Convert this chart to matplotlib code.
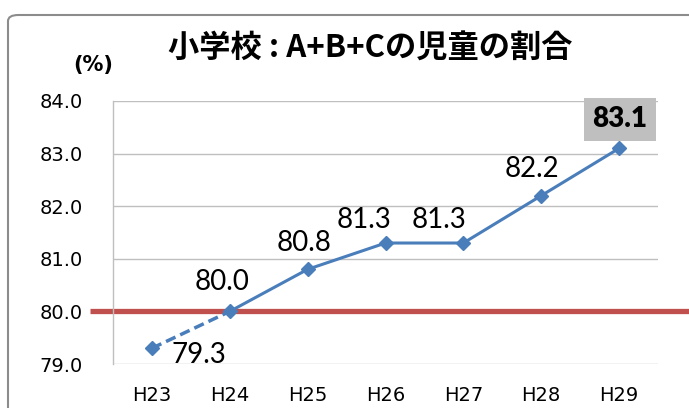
import matplotlib
matplotlib.use("Agg")
import matplotlib.pyplot as plt
from matplotlib.patches import FancyBboxPatch

plt.rcParams['font.family'] = ['Noto Sans CJK JP', 'DejaVu Sans']

categories = ["H23", "H24", "H25", "H26", "H27", "H28", "H29"]
values = [79.3, 80.0, 80.8, 81.3, 81.3, 82.2, 83.1]
target = 80.0
yticks = [79.0, 80.0, 81.0, 82.0, 83.0, 84.0]
title = "小学校 : A+B+Cの児童の割合"
unit_label = "(%)"

blue = "#4A7EBB"
red = "#C0504D"
grid_c = "#BFBFBF"

W, H = 689, 408
fig = plt.figure(figsize=(W / 100, H / 100), dpi=100)
ax = fig.add_axes([113 / W, 1 - 364 / H, (658 - 113) / W, (364 - 101) / H])

x = list(range(len(categories)))

# frame around chart
frame = FancyBboxPatch((8 / W, -0.5), 3.0, (408 - 15) / H + 0.5,
                       boxstyle="round,pad=0,rounding_size=0.015",
                       transform=fig.transFigure, fill=False,
                       edgecolor="#8C8C8C", linewidth=1.5)
fig.patches.append(frame)

ax.set_xlim(-0.5, len(categories) - 0.5)
ax.set_ylim(yticks[0], yticks[-1])
ax.set_yticks(yticks)
ax.set_yticklabels([f"{v:.1f}" for v in yticks], family="DejaVu Sans", fontsize=14)
ax.set_xticks(x)
ax.set_xticklabels(categories, family="DejaVu Sans", fontsize=14)
ax.tick_params(axis="y", length=0, pad=22)
ax.tick_params(axis="x", length=0, pad=16)
for s in ["top", "right", "bottom"]:
    ax.spines[s].set_visible(False)
ax.spines["left"].set_color(grid_c)
ax.spines["left"].set_linewidth(1)
ax.yaxis.grid(True, color=grid_c, linewidth=1)
ax.set_axisbelow(True)

# target line
ax.plot([-0.5 - 23 / 77.9, 8], [target, target], color=red, linewidth=3.8,
        clip_on=False, zorder=2, solid_capstyle="butt")

# series
ax.plot(x[:2], values[:2], color=blue, linewidth=2.5, linestyle=(0, (3, 1.5)), zorder=3)
ax.plot(x[1:], values[1:], color=blue, linewidth=2.2, zorder=3)
ax.plot(x, values, linestyle="none", marker="D", markersize=7, color=blue, zorder=4)

# data labels (offsets in pixels)
offsets = [(47, -7), (-8, 29), (-4, 26), (-21, 23), (-24, 23), (-9, 27), (1, 29)]
for i, (v, (dx, dy)) in enumerate(zip(values, offsets)):
    if i == len(values) - 1:
        ax.annotate(f"{v:.1f}", (x[i], v), xytext=(dx * 0.72, dy * 0.72),
                    textcoords="offset points", ha="center", va="center",
                    family="Lato", fontsize=20, fontweight="heavy", color="black",
                    bbox=dict(boxstyle="square,pad=0.3", facecolor="#BFBFBF",
                              edgecolor="none"), zorder=5)
    else:
        ax.annotate(f"{v:.1f}", (x[i], v), xytext=(dx * 0.72, dy * 0.72),
                    textcoords="offset points", ha="center", va="center",
                    family="Lato", fontsize=20, color="black", zorder=5)

fig.text(370 / W, 1 - 49 / H, title, ha="center", va="center",
         fontsize=22.5, fontweight="bold")
fig.text(93 / W, 1 - 65 / H, unit_label, ha="center", va="center",
         family="DejaVu Sans", fontsize=15, fontweight="bold")

fig.savefig("out.png", dpi=100)
